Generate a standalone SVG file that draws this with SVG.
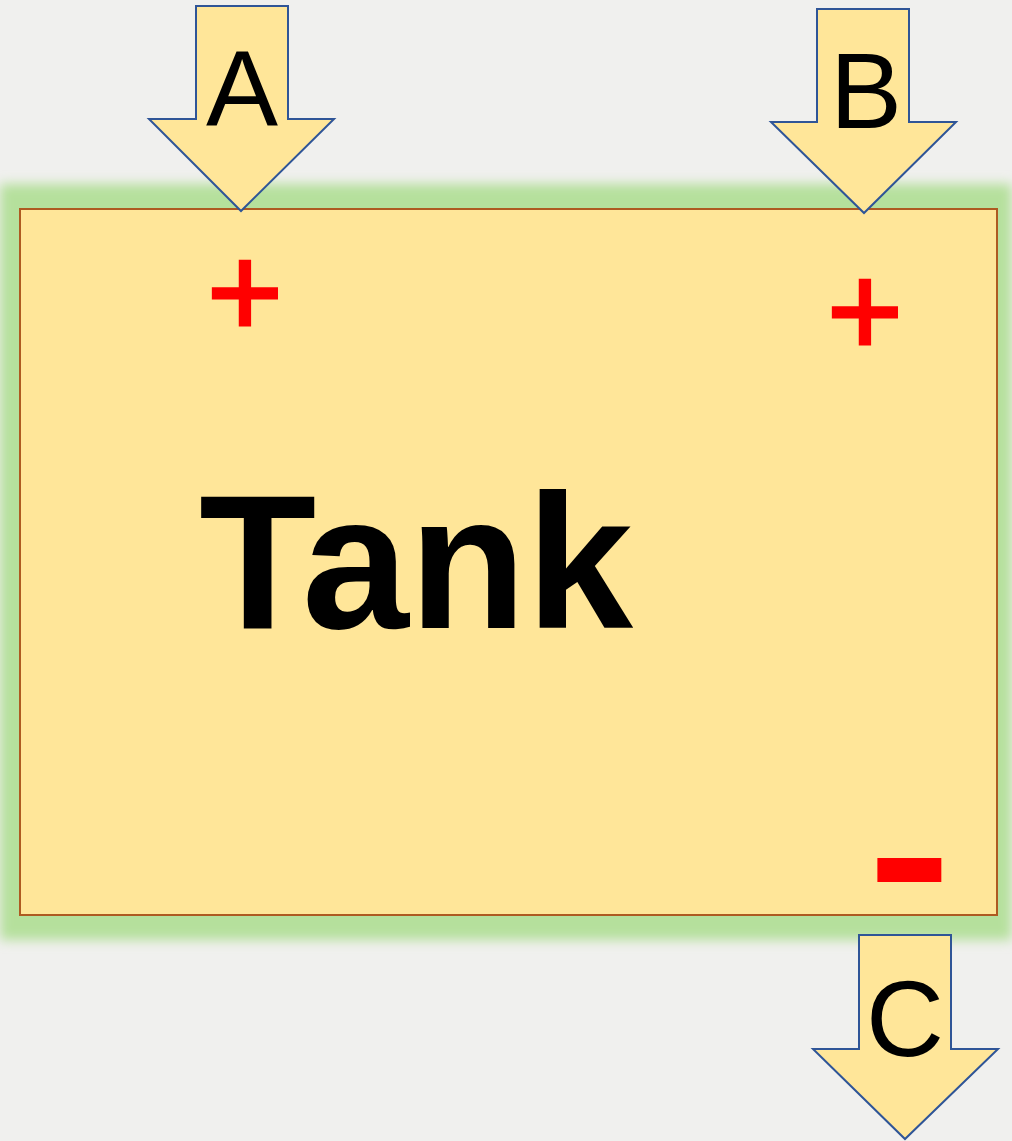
<svg xmlns="http://www.w3.org/2000/svg" width="1012" height="1141" viewBox="0 0 1012 1141">
<style>
.arrow{fill:#ffe699;stroke:#2f5597;stroke-width:2;stroke-linejoin:miter}
.lbl{font-family:"Liberation Sans",Arial,sans-serif;font-size:108px;fill:#000;text-anchor:middle}
.sign{font-family:"Liberation Sans",Arial,sans-serif;fill:#ff0000;stroke:#ff0000;stroke-linejoin:miter;text-anchor:middle}
</style>
<defs>
<filter id="glow" x="-5%" y="-5%" width="110%" height="110%">
<feGaussianBlur stdDeviation="6"/>
</filter>
</defs>
<rect width="1012" height="1141" fill="#f0f0ee"/>
<g id="tank">
<rect x="0" y="184" width="1012" height="756" fill="#b5e09c" filter="url(#glow)"/>
<rect x="20" y="209" width="977" height="706" fill="#ffe699" stroke="#ae5a21" stroke-width="2"/>
<text x="416" y="628" font-family="'Liberation Sans',Arial,sans-serif" font-weight="bold" font-size="192" text-anchor="middle" fill="#000">Tank</text>
<text class="sign" x="245" y="336" font-size="130" stroke-width="3">+</text>
<text class="sign" x="865" y="355" font-size="130" stroke-width="3">+</text>
<text class="sign" transform="translate(909.5,909) scale(1.45,1)" x="0" y="0" font-size="150" font-weight="bold" stroke-width="6">-</text>
</g>
<g id="connectors">
<g id="arrowA">
<polygon class="arrow" points="196,6 288,6 288,119 334,119 241,211 149,119 196,119"/>
<text class="lbl" x="242" y="126">A</text>
</g>
<g id="arrowB">
<polygon class="arrow" points="817,9 909,9 909,122 956,122 864,213 771,122 817,122"/>
<text class="lbl" x="866" y="128">B</text>
</g>
<g id="arrowC">
<polygon class="arrow" points="859,935 951,935 951,1049 998,1049 905,1139 813,1049 859,1049"/>
<text class="lbl" x="905" y="1056">C</text>
</g>
</g>
</svg>
